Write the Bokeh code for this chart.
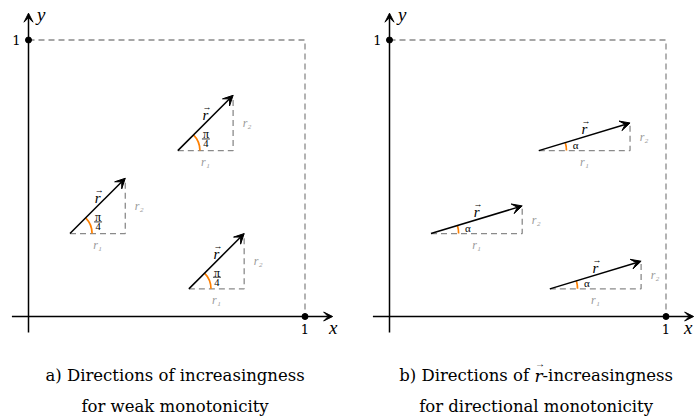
import math
from bokeh.plotting import figure
from bokeh.models import ColumnDataSource, Range1d, Arrow, VeeHead
from bokeh.layouts import row
from bokeh.embed import file_html
from bokeh.resources import INLINE
from bokeh.core.properties import value

# ---------------- data ----------------
start_x = [0.15, 0.54, 0.58]
start_y = [0.30, 0.60, 0.10]
weak_vec = [0.2, 0.2]          # panel a: direction (1,1)
dir_vec = [0.33, 0.10]         # panel b: direction r
angle_labels = ["π", "α"]      # π/4 in panel a, α in panel b
angle_denominator = "4"
vec_letter = "r"
vec_arrow = "→"
leg_labels = ["r\u2081", "r\u2082"]
tick_label = "1"
axis_labels = ["x", "y"]
captions_a = ["a) Directions of increasingness", "for weak monotonicity"]
captions_b_parts = ["b) Directions of", "r", "-increasingness"]
captions_b_line2 = "for directional monotonicity"

# ---------------- styles ----------------
UNIT = 276.5      # pixels per data unit
PX = 1.0 / UNIT
CAP_FONT = "DejaVu Serif"
MATH_FONT = "Liberation Serif"
GRAY = "#8a8a8a"
LABEL_GRAY = "#9a9a9a"
ORANGE = "#ff8000"
H = 417
X_AXIS_PX = 316


def txt(p, x, y, t, size, italic=False, color="black", font=MATH_FONT,
        align="center", baseline="middle"):
    p.text(x=x, y=y, text=t, text_font=value(font), text_font_size=size,
           text_font_style="italic" if italic else "normal", text_color=color,
           text_align=align, text_baseline=baseline)


def make_panel(fig_left, fig_width, origin_px, vec, arc_r, lab_r, ang_text, fraction,
               xlabel_x):
    x_rng = Range1d((fig_left - origin_px) / UNIT, (fig_left + fig_width - origin_px) / UNIT)
    y_rng = Range1d((X_AXIS_PX - H) / UNIT, X_AXIS_PX / UNIT)
    p = figure(width=fig_width, height=H, x_range=x_rng, y_range=y_rng,
               output_backend="svg", toolbar_location=None, min_border=0,
               x_axis_location=None, y_axis_location=None)
    p.grid.visible = False
    p.outline_line_color = None
    p.background_fill_color = "white"
    p.border_fill_color = "white"

    # dashed unit box
    p.line(x=[0, 1, 1], y=[1, 1, 0], line_dash="6 4", line_color=GRAY, line_width=1.3)

    # axes
    p.add_layout(Arrow(end=VeeHead(size=9, fill_color="black", line_color="black", line_width=1),
                       x_start=-0.06, y_start=0, x_end=1.1, y_end=0,
                       line_width=1.5, line_color="black"))
    p.add_layout(Arrow(end=VeeHead(size=9, fill_color="black", line_color="black", line_width=1),
                       x_start=0, y_start=-0.058, x_end=0, y_end=1.097,
                       line_width=1.5, line_color="black"))
    p.scatter(x=[0, 1], y=[1, 0], size=6, color="black")

    txt(p, [-12 * PX], [1], [tick_label], "13px", font=CAP_FONT)
    txt(p, [1], [-12 * PX], [tick_label], "13px", font=CAP_FONT)
    txt(p, [xlabel_x], [-11 * PX], [axis_labels[0]], "19px", italic=True)
    txt(p, [0.046], [1.093], [axis_labels[1]], "19px", italic=True)

    # vectors
    x1 = [x + vec[0] for x in start_x]
    y1 = [y + vec[1] for y in start_y]
    src = ColumnDataSource(dict(x0=start_x, y0=start_y, x1=x1, y1=y1))
    p.multi_line(xs=[[a, b, b] for a, b in zip(start_x, x1)],
                 ys=[[a, a, b] for a, b in zip(start_y, y1)],
                 line_dash="6 4", line_color=GRAY, line_width=1.3)
    theta = math.atan2(vec[1], vec[0])
    p.arc(x="x0", y="y0", radius=arc_r, start_angle=0, end_angle=theta,
          line_color=ORANGE, line_width=1.7, source=src)
    p.add_layout(Arrow(end=VeeHead(size=10, fill_color="black", line_color="black", line_width=1),
                       source=src, x_start="x0", y_start="y0", x_end="x1", y_end="y1",
                       line_width=1.5, line_color="black"))

    mid_x = [(a + b) / 2 for a, b in zip(start_x, x1)]
    mid_y = [(a + b) / 2 for a, b in zip(start_y, y1)]
    txt(p, mid_x, [m + 7.5 * PX for m in mid_y], [vec_letter] * 3, "15px", italic=True,
        baseline="alphabetic")
    txt(p, [m + 1.5 * PX for m in mid_x], [m + 15.5 * PX for m in mid_y], [vec_arrow] * 3,
        "9px")
    txt(p, mid_x, [y - 11 * PX for y in start_y], [leg_labels[0]] * 3, "12px",
        italic=True, color=LABEL_GRAY)
    txt(p, [x + 14 * PX for x in x1], mid_y, [leg_labels[1]] * 3, "12px",
        italic=True, color=LABEL_GRAY)

    cx = [x + lab_r * math.cos(theta / 2) for x in start_x]
    cy = [y + lab_r * math.sin(theta / 2) for y in start_y]
    if fraction:
        txt(p, cx, [c + 4.5 * PX for c in cy], [ang_text] * 3, "12px")
        txt(p, cx, [c - 5 * PX for c in cy], [angle_denominator] * 3, "10.5px")
        p.segment(x0=[c - 4 * PX for c in cx], x1=[c + 4 * PX for c in cx], y0=cy, y1=cy,
                  line_color="black", line_width=0.8)
    else:
        txt(p, cx, cy, [ang_text] * 3, "11px")
    return p


CAP_Y1 = (X_AXIS_PX - 375) * PX
CAP_Y2 = (X_AXIS_PX - 406) * PX
CAP_CX = 0.53

pa = make_panel(0, 347, 28, weak_vec, 0.08, 0.11, angle_labels[0], True, 1.102)
txt(pa, [CAP_CX, CAP_CX], [CAP_Y1, CAP_Y2], captions_a, "16.5px", font=CAP_FONT,
    baseline="alphabetic")

pb = make_panel(347, 348, 389, dir_vec, 0.10, 0.135, angle_labels[1], False, 1.08)
r_c = CAP_CX + 2.5 * PX
txt(pb, [r_c - 9.5 * PX], [CAP_Y1], [captions_b_parts[0]], "16.5px", font=CAP_FONT,
    align="right", baseline="alphabetic")
txt(pb, [r_c], [CAP_Y1], [captions_b_parts[1]], "17px", font=CAP_FONT, italic=True,
    baseline="alphabetic")
txt(pb, [r_c + 1.5 * PX], [CAP_Y1 + 12 * PX], [vec_arrow], "10px")
txt(pb, [r_c + 4 * PX], [CAP_Y1], [captions_b_parts[2]], "16.5px", font=CAP_FONT,
    align="left", baseline="alphabetic")
txt(pb, [CAP_CX], [CAP_Y2], [captions_b_line2], "16.5px", font=CAP_FONT,
    baseline="alphabetic")

layout = row(pa, pb)
open("out.html", "w").write(file_html(layout, INLINE))
